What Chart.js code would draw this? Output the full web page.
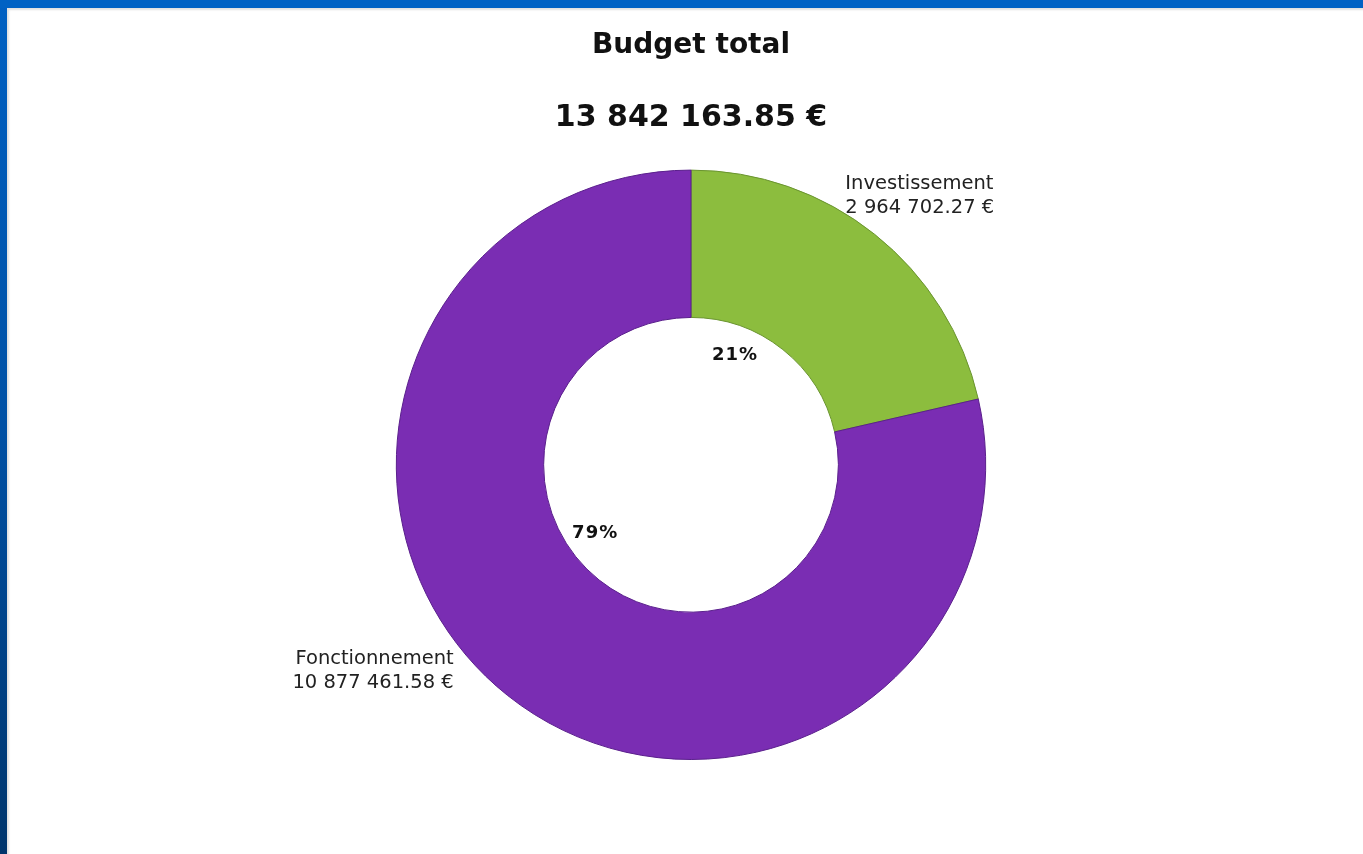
<!DOCTYPE html>
<html>
<head>
<meta charset="utf-8">
<script src="https://cdn.jsdelivr.net/npm/chart.js@4.4.1/dist/chart.umd.min.js"></script>
<style>
  html, body { margin: 0; padding: 0; overflow: hidden; }
  body { width: 1363px; height: 854px; background: linear-gradient(180deg, #0060c2 0%, #0050a4 50%, #00356c 100%); position: relative; }
  #topbar { position: absolute; left: 0; top: 0; width: 1363px; height: 8px; background: #0062c4; }
  #panel { position: absolute; left: 7px; top: 8px; width: 1356px; height: 846px; background: #ffffff; box-shadow: inset 2px 2px 2px rgba(0,0,0,0.12); }
  canvas { display: block; }
</style>
</head>
<body>
<div id="topbar"></div>
<div id="panel"><canvas id="c" width="1356" height="846"></canvas></div>
<script>
// ---- data ----
const categories = ['Investissement', 'Fonctionnement'];
const values = [2964702.27, 10877461.58];
const colors = ['#8cbd3e', '#7a2db3'];
const borderColors = ['#6a9430', '#5a1f8c'];
const titleText = 'Budget total';

// ---- label placement styling (fraction along arc, radial factor, offsets) ----
const pctLabelPos = [ {f: 0.285, rf: 0.80}, {f: 0.556, rf: 0.80} ];
const outLabelPos = [ {f: 0.389, dx: 7, dy: -14, align: 'left'}, {f: 0.540, dx: -12, dy: 16, align: 'right'} ];

function fmt(v) {
  const parts = v.toFixed(2).split('.');
  const intPart = parts[0].replace(/\B(?=(\d{3})+(?!\d))/g, ' ');
  return intPart + '.' + parts[1] + ' \u20AC';
}
const total = values.reduce((a, b) => a + b, 0);

const labelPlugin = {
  id: 'donutLabels',
  afterDatasetsDraw(chart) {
    const ctx = chart.ctx;
    const meta = chart.getDatasetMeta(0);
    meta.data.forEach((arc, i) => {
      const p = arc.getProps(['x', 'y', 'startAngle', 'endAngle', 'innerRadius', 'outerRadius'], true);
      const pl = pctLabelPos[i];
      const a1 = p.startAngle + pl.f * (p.endAngle - p.startAngle);
      const r1 = p.innerRadius * pl.rf;
      ctx.save();
      ctx.font = 'bold 18px "DejaVu Sans", Verdana, sans-serif';
      ctx.fillStyle = '#111111';
      ctx.textAlign = 'center';
      ctx.textBaseline = 'middle';
      if ('letterSpacing' in ctx) ctx.letterSpacing = '1px';
      ctx.fillText(Math.round(values[i] / total * 100) + '%', p.x + r1 * Math.cos(a1), p.y + r1 * Math.sin(a1));
      if ('letterSpacing' in ctx) ctx.letterSpacing = '0px';
      const ol = outLabelPos[i];
      const a2 = p.startAngle + ol.f * (p.endAngle - p.startAngle);
      const ax = p.x + p.outerRadius * Math.cos(a2) + ol.dx;
      const ay = p.y + p.outerRadius * Math.sin(a2) + ol.dy;
      ctx.font = '19.5px "DejaVu Sans", Verdana, sans-serif';
      ctx.fillStyle = '#222222';
      ctx.textAlign = ol.align;
      ctx.fillText(categories[i], ax, ay - 12);
      ctx.fillText(fmt(values[i]), ax, ay + 12);
      ctx.restore();
    });
  }
};

new Chart(document.getElementById('c'), {
  type: 'doughnut',
  data: {
    labels: categories,
    datasets: [{
      data: values,
      backgroundColor: colors,
      borderColor: borderColors,
      borderWidth: 1,
      hoverOffset: 0
    }]
  },
  options: {
    responsive: false,
    animation: false,
    cutout: '50%',
    rotation: 0,
    layout: { padding: { top: 0, bottom: 94, left: 22, right: 10 } },
    plugins: {
      legend: { display: false },
      tooltip: { enabled: false },
      title: {
        display: true,
        text: titleText,
        color: '#111111',
        font: { family: '"DejaVu Sans", Verdana, sans-serif', size: 28, weight: 'bold', lineHeight: 1.2 },
        padding: { top: 21, bottom: 38 }
      },
      subtitle: {
        display: true,
        text: fmt(total),
        color: '#111111',
        font: { family: '"DejaVu Sans", Verdana, sans-serif', size: 30, weight: 'bold', lineHeight: 1.2 },
        padding: { top: 0, bottom: 33 }
      }
    }
  },
  plugins: [labelPlugin]
});
</script>
</body>
</html>
